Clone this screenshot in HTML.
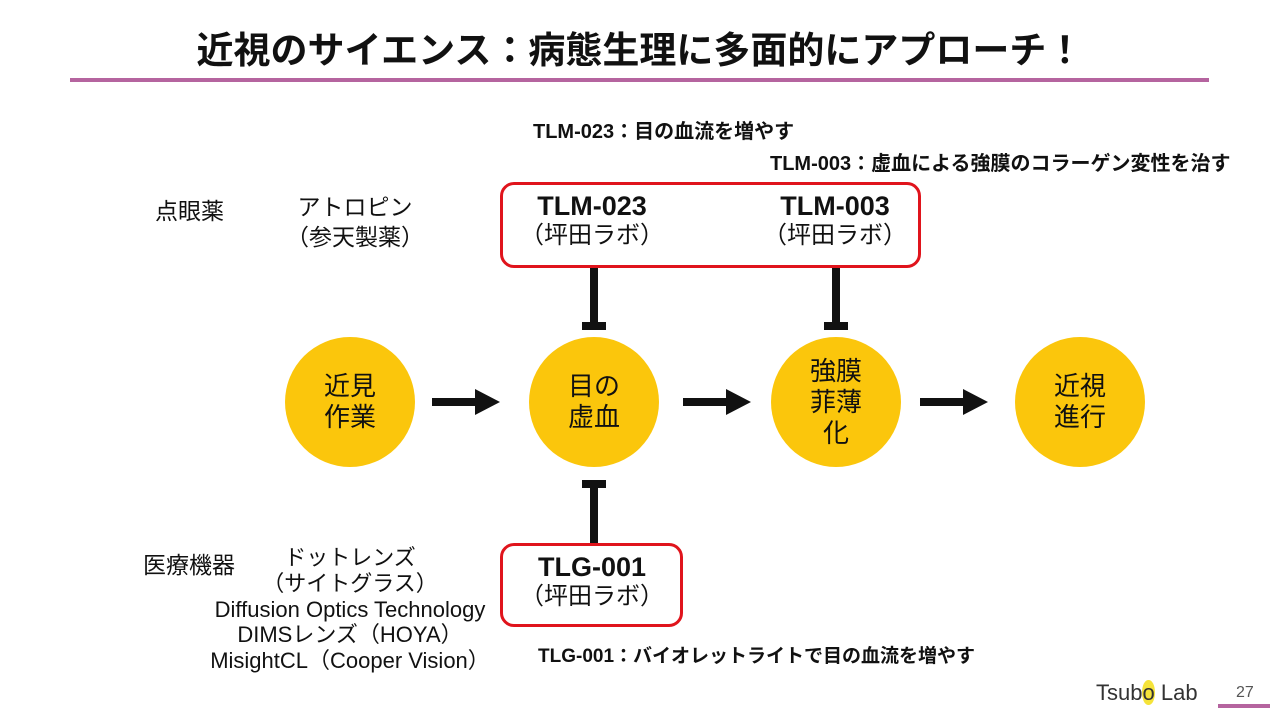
<!DOCTYPE html>
<html><head><meta charset="utf-8"><style>
body{margin:0;width:1280px;height:720px;background:#fff;position:relative;overflow:hidden;font-family:"Liberation Sans","Noto Sans CJK JP",sans-serif;color:#111}
.a{position:absolute;white-space:nowrap}
.c{position:absolute;width:130px;height:130px;border-radius:50%;background:#FBC60C;display:flex;align-items:center;justify-content:center;text-align:center;font-size:26px;line-height:31px}
.bx{position:absolute;border:3px solid #E0141C;border-radius:14px;box-sizing:border-box}
.k{position:absolute;background:#111}
.t{font-weight:bold;font-size:27px;line-height:30px;text-align:center}
.s{font-size:24px;line-height:30px;text-align:center}
</style></head><body>
<div class="a" style="left:0;width:1280px;top:20px;text-align:center;font-size:37px;font-weight:bold;">近視のサイエンス：病態生理に多面的にアプローチ！</div>
<div class="k" style="left:70px;top:78px;width:1139px;height:4px;background:#B5649F"></div>

<div class="a" style="left:533px;top:115px;font-size:20px;font-weight:bold">TLM-023：目の血流を増やす</div>
<div class="a" style="left:770px;top:147px;font-size:20px;font-weight:bold">TLM-003：虚血による強膜のコラーゲン変性を治す</div>

<div class="a" style="left:155px;top:192px;font-size:23px">点眼薬</div>
<div class="a" style="left:286px;top:192px;font-size:23px;line-height:30px;text-align:center">アトロピン<br>（参天製薬）</div>

<div class="bx" style="left:500px;top:182px;width:421px;height:86px"></div>
<div class="a" style="left:520px;top:191px"><div class="t">TLM-023</div><div class="s">（坪田ラボ）</div></div>
<div class="a" style="left:763px;top:191px"><div class="t">TLM-003</div><div class="s">（坪田ラボ）</div></div>

<div class="k" style="left:590px;top:268px;width:8px;height:57px"></div>
<div class="k" style="left:582px;top:322px;width:24px;height:8px"></div>
<div class="k" style="left:832px;top:268px;width:8px;height:57px"></div>
<div class="k" style="left:824px;top:322px;width:24px;height:8px"></div>

<div class="c" style="left:285px;top:337px">近見<br>作業</div>
<div class="c" style="left:529px;top:337px">目の<br>虚血</div>
<div class="c" style="left:771px;top:337px">強膜<br>菲薄<br>化</div>
<div class="c" style="left:1015px;top:337px">近視<br>進行</div>

<svg class="a" style="left:0;top:0" width="1280" height="720">
<g fill="#111">
<rect x="432" y="398" width="45" height="8"/><polygon points="475,389 500,402 475,415"/>
<rect x="683" y="398" width="45" height="8"/><polygon points="726,389 751,402 726,415"/>
<rect x="920" y="398" width="45" height="8"/><polygon points="963,389 988,402 963,415"/>
</g></svg>

<div class="k" style="left:582px;top:480px;width:24px;height:8px"></div>
<div class="k" style="left:590px;top:480px;width:8px;height:63px"></div>
<div class="bx" style="left:500px;top:543px;width:183px;height:84px"></div>
<div class="a" style="left:520px;top:552px"><div class="t">TLG-001</div><div class="s">（坪田ラボ）</div></div>
<div class="a" style="left:538px;top:641px;font-size:19px;font-weight:bold">TLG-001：バイオレットライトで目の血流を増やす</div>

<div class="a" style="left:143px;top:546px;font-size:23px">医療機器</div>
<div class="a" style="left:200px;top:545px;width:300px;text-align:center;font-size:22px;line-height:25.8px">ドットレンズ<br>（サイトグラス）<br>Diffusion Optics Technology<br>DIMSレンズ（HOYA）<br>MisightCL（Cooper Vision）</div>

<div class="a" style="left:1096px;top:680px;font-size:22px;color:#333">Tsub<span style="background:#F5E33A;border-radius:50%">o</span> L<span>a</span>b</div>
<div class="a" style="left:1236px;top:684px;font-size:16px;color:#555">27</div>
<div class="k" style="left:1218px;top:704px;width:52px;height:4px;background:#B5649F"></div>
</body></html>
